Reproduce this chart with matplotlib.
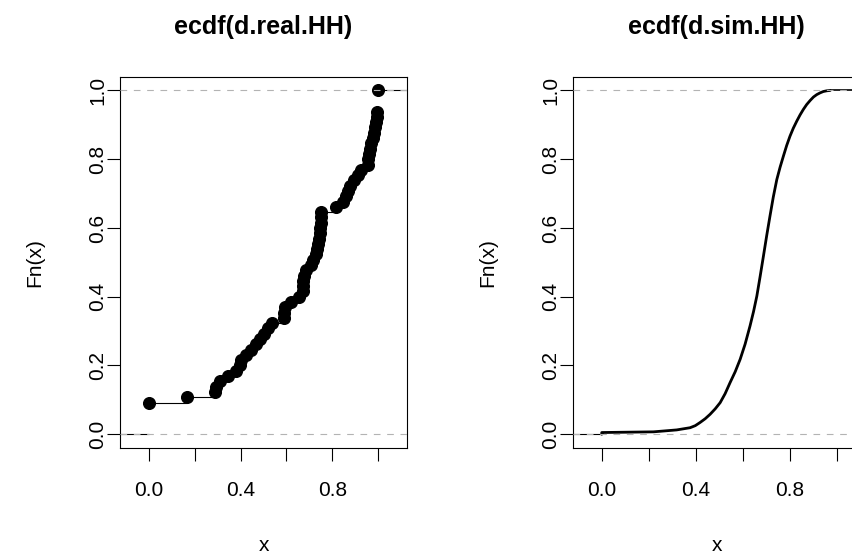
import numpy as np
import matplotlib
matplotlib.use("Agg")
from matplotlib import pyplot as plt

plt.rcParams['font.family'] = ['Liberation Sans', 'DejaVu Sans']
plt.rcParams['lines.scale_dashes'] = False

d_real = [0.0] * 6 + [0.167] + [
    0.287, 0.291, 0.31, 0.345, 0.38, 0.398, 0.403, 0.425, 0.447, 0.467,
    0.485, 0.500, 0.521, 0.537, 0.589, 0.591, 0.595, 0.62, 0.655, 0.671,
    0.673, 0.674, 0.675, 0.685, 0.705, 0.718, 0.728, 0.733, 0.737, 0.741,
    0.745, 0.747, 0.749, 0.7495, 0.750,
    0.818, 0.848, 0.860, 0.867, 0.876, 0.895, 0.913, 0.925, 0.956, 0.958,
    0.960, 0.965, 0.970, 0.976, 0.981, 0.986, 0.990, 0.994, 0.997,
] + [1.0] * 4

# simulated ecdf (dense, read as a curve)
sim_x = [0.0, 0.0, 0.22, 0.319, 0.376, 0.398, 0.418, 0.440, 0.461, 0.483,
         0.504, 0.525, 0.546, 0.568, 0.589, 0.610, 0.631, 0.646, 0.660,
         0.674, 0.688, 0.702, 0.716, 0.730, 0.745, 0.759, 0.773, 0.787,
         0.801, 0.815, 0.830, 0.844, 0.858, 0.872, 0.887, 0.901, 0.915,
         0.929, 0.943, 0.957, 0.972]
sim_F = [0.0, 0.005, 0.007, 0.0126, 0.019, 0.025, 0.034, 0.045, 0.058,
         0.074, 0.092, 0.118, 0.150, 0.182, 0.218, 0.262, 0.315, 0.357,
         0.402, 0.459, 0.518, 0.578, 0.635, 0.690, 0.741, 0.777, 0.809,
         0.840, 0.867, 0.890, 0.911, 0.929, 0.945, 0.959, 0.971, 0.981,
         0.988, 0.993, 0.997, 0.999, 1.0]

xticks = [0.0, 0.2, 0.4, 0.6, 0.8, 1.0]
xticklabels = ['0.0', '', '0.4', '', '0.8', '']
yticks = [0.0, 0.2, 0.4, 0.6, 0.8, 1.0]
yticklabels = ['0.0', '0.2', '0.4', '0.6', '0.8', '1.0']

gray70 = '#b3b3b3'
lw = 0.8


def style(ax, title, xlim):
    ax.set_xlim(xlim)
    ax.set_ylim(-0.04, 1.04)
    ax.axhline(0, color=gray70, lw=lw, dashes=(4.8, 4.8), zorder=3)
    ax.axhline(1, color=gray70, lw=lw, dashes=(4.8, 4.8), zorder=3)
    ax.set_xticks(xticks)
    ax.set_xticklabels(xticklabels)
    ax.set_yticks(yticks)
    ax.set_yticklabels(yticklabels, rotation=90, va='center')
    ax.tick_params(direction='out', length=9.4, width=lw, labelsize=15,
                   pad=14)
    ax.tick_params(axis='y', pad=0)
    for s in ax.spines.values():
        s.set_linewidth(lw)
    ax.set_title(title, fontsize=18, fontweight='bold', pad=31)
    ax.set_xlabel('x', fontsize=15)
    ax.set_ylabel('Fn(x)', fontsize=15)
    ax.xaxis.set_label_coords(0.5, -0.236)
    ax.yaxis.set_label_coords(-0.265, 0.5)


fig = plt.figure(figsize=(8.53, 5.6), dpi=100)
ax1 = fig.add_axes([0.1407, 0.2, 0.3365, 0.663])
ax2 = fig.add_axes([0.6721, 0.2, 0.3365, 0.663])

# left: step function with points
xlim1 = (-0.1264, 1.1264)
vals, counts = np.unique(d_real, return_counts=True)
Fn = np.cumsum(counts) / len(d_real)
ax1.hlines(0, xlim1[0], vals[0], color='black', lw=lw)
ax1.hlines(Fn[:-1], vals[:-1], vals[1:], color='black', lw=lw)
ax1.hlines(Fn[-1], vals[-1], xlim1[1], color='black', lw=lw)
ax1.plot(vals, Fn, 'o', color='black', markersize=8.4, zorder=2)
style(ax1, 'ecdf(d.real.HH)', xlim1)

# right: dense simulated ecdf
xlim2 = (-0.121, 1.1004)
ax2.hlines(0, xlim2[0], sim_x[0], color='black', lw=lw)
ax2.plot(sim_x, sim_F, color='black', lw=2.0, solid_capstyle='round')
ax2.hlines(1, sim_x[-1], xlim2[1], color='black', lw=1.2)
style(ax2, 'ecdf(d.sim.HH)', xlim2)

fig.savefig('out.png', dpi=100)
